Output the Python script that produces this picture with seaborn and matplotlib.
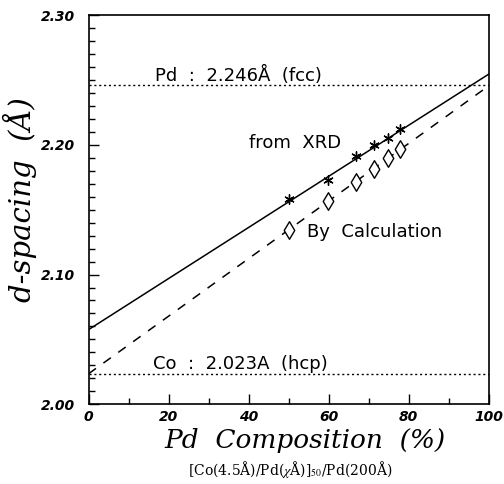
import matplotlib
matplotlib.use("Agg")
import matplotlib.pyplot as plt
import seaborn as sns
import pandas as pd
from matplotlib.ticker import MultipleLocator

sns.set_theme(style="ticks")
plt.rcParams['font.family'] = ['DejaVu Sans']
plt.rcParams['mathtext.fontset'] = 'stix'
plt.rcParams['text.color'] = 'black'
plt.rcParams['xtick.color'] = 'black'
plt.rcParams['ytick.color'] = 'black'
plt.rcParams['axes.labelcolor'] = 'black'

# Data
pd_comp = [50.0, 59.9, 66.7, 71.4, 74.9, 77.8]
d_xrd = [2.158, 2.1725, 2.191, 2.1995, 2.205, 2.212]
d_calc = [2.134, 2.157, 2.1715, 2.181, 2.190, 2.1965]
fit_x = [0, 100]
fit_xrd = [2.0575, 2.2545]
fit_calc = [2.0235, 2.2455]
pd_ref = 2.246
co_ref = 2.023
x_ticks = [0, 20, 40, 60, 80, 100]
y_ticks = [2.00, 2.10, 2.20, 2.30]

df_pts = pd.DataFrame({"x": pd_comp, "xrd": d_xrd, "calc": d_calc})
df_fit = pd.DataFrame({"x": fit_x, "xrd": fit_xrd, "calc": fit_calc})

fig = plt.figure(figsize=(5.04, 4.84), dpi=100)
ax = fig.add_axes([0.1756, 0.1647, 0.7944, 0.8043])

# reference lines
ax.axhline(pd_ref, color="black", lw=1.0, ls=(0, (1.5, 2.0)))
ax.axhline(co_ref, color="black", lw=1.0, ls=(0, (1.5, 2.0)))

sns.lineplot(data=df_fit, x="x", y="xrd", ax=ax, color="black", lw=1.1)
sns.lineplot(data=df_fit, x="x", y="calc", ax=ax, color="black", lw=1.1,
             linestyle=(0, (6, 6)))
sns.scatterplot(data=df_pts, x="x", y="xrd", ax=ax, marker=(6, 2, 0), s=45,
                color="black", edgecolor="black", linewidth=1.0, zorder=5)
sns.scatterplot(data=df_pts, x="x", y="calc", ax=ax, marker="d", s=80,
                facecolor="white", edgecolor="black", linewidth=1.0, zorder=5)

ax.set_xlim(0, 100)
ax.set_ylim(2.00, 2.30)
ax.set_xticks(x_ticks)
ax.set_yticks(y_ticks)
ax.xaxis.set_minor_locator(MultipleLocator(10))
ax.yaxis.set_minor_locator(MultipleLocator(0.01))
ax.set_xticklabels([str(v) for v in x_ticks], fontsize=10, fontweight="bold",
                   style="italic")
ax.set_yticklabels([f"{v:.2f}" for v in y_ticks], fontsize=10, fontweight="bold",
                   style="italic")
ax.tick_params(axis="x", which="major", direction="in", length=7, width=1.0,
               pad=4, top=False)
ax.tick_params(axis="y", which="major", direction="in", length=7, width=1.0,
               pad=10, right=False)
ax.tick_params(axis="both", which="minor", direction="in", length=4, width=1.0,
               right=False, top=False)
for s in ax.spines.values():
    s.set_linewidth(1.2)
    s.set_color("black")

ax.set_xlabel("Pd  Composition  (%)", fontsize=19, family="DejaVu Serif",
              style="italic")
ax.xaxis.set_label_coords(0.54, -0.06)
ax.set_ylabel("d-spacing  (Å)", fontsize=21, family="DejaVu Serif",
              style="italic")
ax.yaxis.set_label_coords(-0.128, 0.525)

ax.text(16.7, 2.2495, "Pd  :  2.246Å  (fcc)", fontsize=13, ha="left", va="baseline")
ax.text(16.2, 2.0275, "Co  :  2.023A  (hcp)", fontsize=13, ha="left", va="baseline")
ax.text(40, 2.2015, "from  XRD", fontsize=13, ha="left", va="center")
ax.text(54.5, 2.133, "By  Calculation", fontsize=13, ha="left", va="center")

fig.text(0.575, 0.03, r"[Co(4.5Å)/Pd($\chi$Å)]$_{50}$/Pd(200Å)", fontsize=10,
         ha="center", va="center", family="serif")

fig.savefig("out.png", dpi=100)
